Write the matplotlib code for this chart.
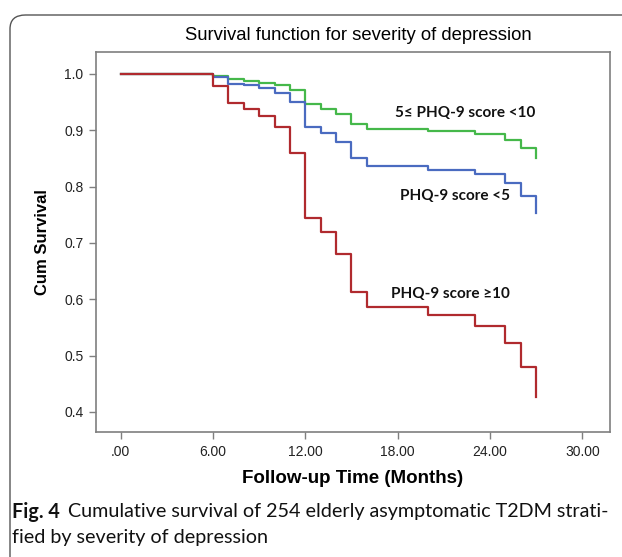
import matplotlib
matplotlib.use("Agg")
import matplotlib.pyplot as plt
from matplotlib.patches import FancyBboxPatch

# follow-up months where the curves step
months = [0, 6, 7, 8, 9, 10, 11, 12, 13, 14, 15, 16, 20, 23, 25, 26, 27]

# cumulative survival by PHQ-9 group
surv_low = [1.0, 0.994, 0.982, 0.980, 0.975, 0.966, 0.950, 0.906, 0.896,
            0.880, 0.850, 0.837, 0.830, 0.822, 0.806, 0.784, 0.754]
surv_mid = [1.0, 0.996, 0.991, 0.987, 0.984, 0.981, 0.972, 0.946, 0.938,
            0.929, 0.911, 0.902, 0.898, 0.893, 0.883, 0.868, 0.850]
surv_high = [1.0, 0.979, 0.949, 0.937, 0.926, 0.905, 0.859, 0.744, 0.720,
             0.680, 0.613, 0.586, 0.572, 0.553, 0.522, 0.480, 0.427]

x_ticks = [0, 6, 12, 18, 24, 30]
x_ticklabels = [".00", "6.00", "12.00", "18.00", "24.00", "30.00"]
y_ticks = [0.4, 0.5, 0.6, 0.7, 0.8, 0.9, 1.0]

W, H = 622, 557
fig = plt.figure(figsize=(W / 100, H / 100), dpi=100)

# outer rounded frame of the figure panel
frame = FancyBboxPatch((10 / W, 1 - 578 / H), 650 / W, 563 / H,
                       boxstyle="round,pad=0,rounding_size=0.025",
                       transform=fig.transFigure, fill=False,
                       edgecolor="#555555", linewidth=1.0)
fig.patches.append(frame)

ax = fig.add_axes([96 / W, 1 - 432 / H, 514 / W, 380 / H])

ax.plot(months, surv_mid, drawstyle="steps-post", color="#45b84a", lw=1.6)
ax.plot(months, surv_low, drawstyle="steps-post", color="#4a6bc0", lw=1.6)
ax.plot(months, surv_high, drawstyle="steps-post", color="#b02a2e", lw=1.6)

ax.set_xlim(-1.6, 31.8)
ax.set_ylim(0.3645, 1.039)
ax.set_xticks(x_ticks)
ax.set_xticklabels(x_ticklabels)
ax.set_yticks(y_ticks)
ax.set_yticklabels([f"{v:.1f}" for v in y_ticks])

for s in ax.spines.values():
    s.set_color("#7f7f7f")
    s.set_linewidth(1.2)
ax.tick_params(direction="out", length=5, width=1, color="#7f7f7f",
               labelsize=10, labelcolor="#222222", pad=4)
for lab in ax.get_xticklabels() + ax.get_yticklabels():
    lab.set_family("Liberation Sans")

ax.set_xlabel("Follow-up Time (Months)", family="Liberation Sans",
              fontweight="bold", fontsize=13.5, labelpad=8)
ax.set_ylabel("Cum Survival", family="Liberation Sans",
              fontweight="bold", fontsize=12, labelpad=10)

fig.text(358 / W, 1 - 36 / H, "Survival function for severity of depression",
         family="Liberation Sans", fontsize=13.3, ha="center", va="center")

lab_kw = dict(family="Lato", fontweight="bold", fontsize=11,
              ha="center", va="center", color="#111111")
ax.text(22.4, 0.931, "5\u2264 PHQ-9 score <10", **lab_kw)
ax.text(21.7, 0.783, "PHQ-9 score <5", **lab_kw)
ax.text(21.4, 0.609, "PHQ-9 score \u226510", **lab_kw)

# caption below the chart
cap_y1 = 1 - 512 / H
cap_y2 = 1 - 538 / H
cap_kw = dict(family="Lato", fontsize=14.2, va="center", color="#111111")
bold = fig.text(12 / W, cap_y1, "Fig. 4", fontweight="bold", **cap_kw)
fig.canvas.draw()
bb = bold.get_window_extent(fig.canvas.get_renderer())
fig.text(bb.x1 / W + 8 / W, cap_y1,
         "Cumulative survival of 254 elderly asymptomatic T2DM strati-",
         **cap_kw)
fig.text(12 / W, cap_y2, "fied by severity of depression", **cap_kw)

fig.savefig("out.png", dpi=100)
